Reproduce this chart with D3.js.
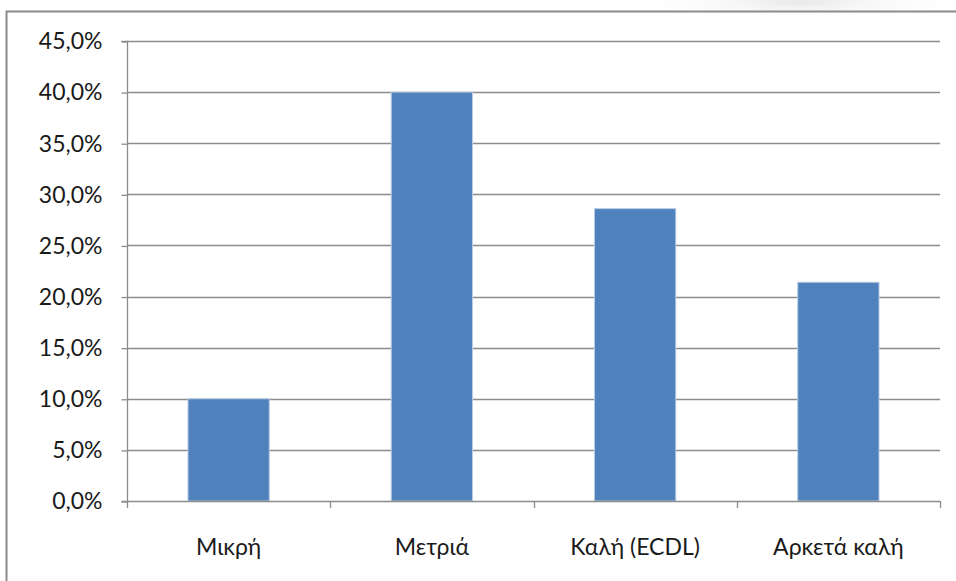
<!DOCTYPE html>
<html>
<head>
<meta charset="utf-8">
<script src="https://cdn.jsdelivr.net/npm/d3@7"></script>
<style>
  html, body { margin: 0; padding: 0; background: #ffffff; }
  svg { display: block; }
  text { font-family: Lato, "Open Sans", sans-serif; fill: #1a1a1a; }
</style>
</head>
<body>
<svg id="chart" width="956" height="581"></svg>
<script>
// Computer skill level — share of respondents
const categories = ["Μικρή", "Μετριά", "Καλή (ECDL)", "Αρκετά καλή"];
const values = [10.0, 40.0, 28.6, 21.4];
const yTicks = [0, 5, 10, 15, 20, 25, 30, 35, 40, 45];

const svg = d3.select("#chart");
const W = 956, H = 581;
const plot = { left: 127, right: 940, top: 41, bottom: 501 };
const FONT = 'Lato, "Open Sans", sans-serif';

// soft decoration above the frame
const defs = svg.append("defs");
const rg = defs.append("radialGradient").attr("id", "haze");
rg.append("stop").attr("offset", "0%").attr("stop-color", "#e2e2e2").attr("stop-opacity", 0.8);
rg.append("stop").attr("offset", "100%").attr("stop-color", "#ffffff").attr("stop-opacity", 0);
svg.append("ellipse").attr("cx", 800).attr("cy", 2).attr("rx", 170).attr("ry", 22)
  .attr("fill", "url(#haze)");
svg.append("rect").attr("x", 6).attr("y", 11).attr("width", W).attr("height", H)
  .attr("fill", "#ffffff");

// outer frame
svg.append("path")
  .attr("d", `M6.5,${H} L6.5,11.5 L${W},11.5`)
  .attr("fill", "none").attr("stroke", "#8a8a8a").attr("stroke-width", 2);

const x = d3.scaleBand().domain(categories)
  .range([plot.left, plot.right]).paddingInner(0.6).paddingOuter(0.3);
const y = d3.scaleLinear().domain([0, 45]).range([plot.bottom, plot.top]);

const fmt = v => d3.format(".1f")(v).replace(".", ",") + "%";

// gridlines
svg.append("g").selectAll("line").data(yTicks.filter(t => t > 0)).join("line")
  .attr("x1", plot.left).attr("x2", plot.right)
  .attr("y1", d => Math.round(y(d)) + 0.5).attr("y2", d => Math.round(y(d)) + 0.5)
  .attr("stroke", "#8c8c8c").attr("stroke-width", 1.3);

// y axis
const yAxis = d3.axisLeft(y).tickValues(yTicks).tickFormat(fmt).tickSize(6).tickPadding(19);
const gy = svg.append("g").attr("transform", `translate(${plot.left + 0.5},0.5)`).call(yAxis)
  .attr("font-family", FONT).attr("font-size", 23);
gy.select(".domain").attr("stroke", "#8c8c8c").attr("stroke-width", 1.3).attr("d", `M-6,${plot.top}H0V${plot.bottom}H-6`);
gy.selectAll(".tick line").attr("stroke", "#8c8c8c").attr("stroke-width", 1.3);
gy.selectAll(".tick text").attr("fill", "#1a1a1a");

// bars
svg.append("g").selectAll("rect").data(values).join("rect")
  .attr("x", (d, i) => x(categories[i]))
  .attr("y", d => y(d))
  .attr("width", x.bandwidth())
  .attr("height", d => y(0) - y(d))
  .attr("fill", "#4f81bd")
  .attr("stroke", "#b9cde5").attr("stroke-width", 1);

// x axis with ticks on category boundaries
const bounds = d3.range(categories.length + 1).map(i => plot.left + i * (plot.right - plot.left) / categories.length);
const gx = svg.append("g");
gx.append("line").attr("x1", plot.left).attr("x2", plot.right)
  .attr("y1", plot.bottom + 0.5).attr("y2", plot.bottom + 0.5)
  .attr("stroke", "#8c8c8c").attr("stroke-width", 1.3);
gx.selectAll("line.tk").data(bounds).join("line").attr("class", "tk")
  .attr("x1", d => Math.round(d) + 0.5).attr("x2", d => Math.round(d) + 0.5)
  .attr("y1", plot.bottom).attr("y2", plot.bottom + 7)
  .attr("stroke", "#8c8c8c").attr("stroke-width", 1.3);
gx.selectAll("text").data(categories).join("text")
  .attr("x", d => x(d) + x.bandwidth() / 2)
  .attr("y", 555)
  .attr("text-anchor", "middle")
  .attr("font-family", FONT)
  .attr("font-size", 23)
  .text(d => d);
</script>
</body>
</html>
